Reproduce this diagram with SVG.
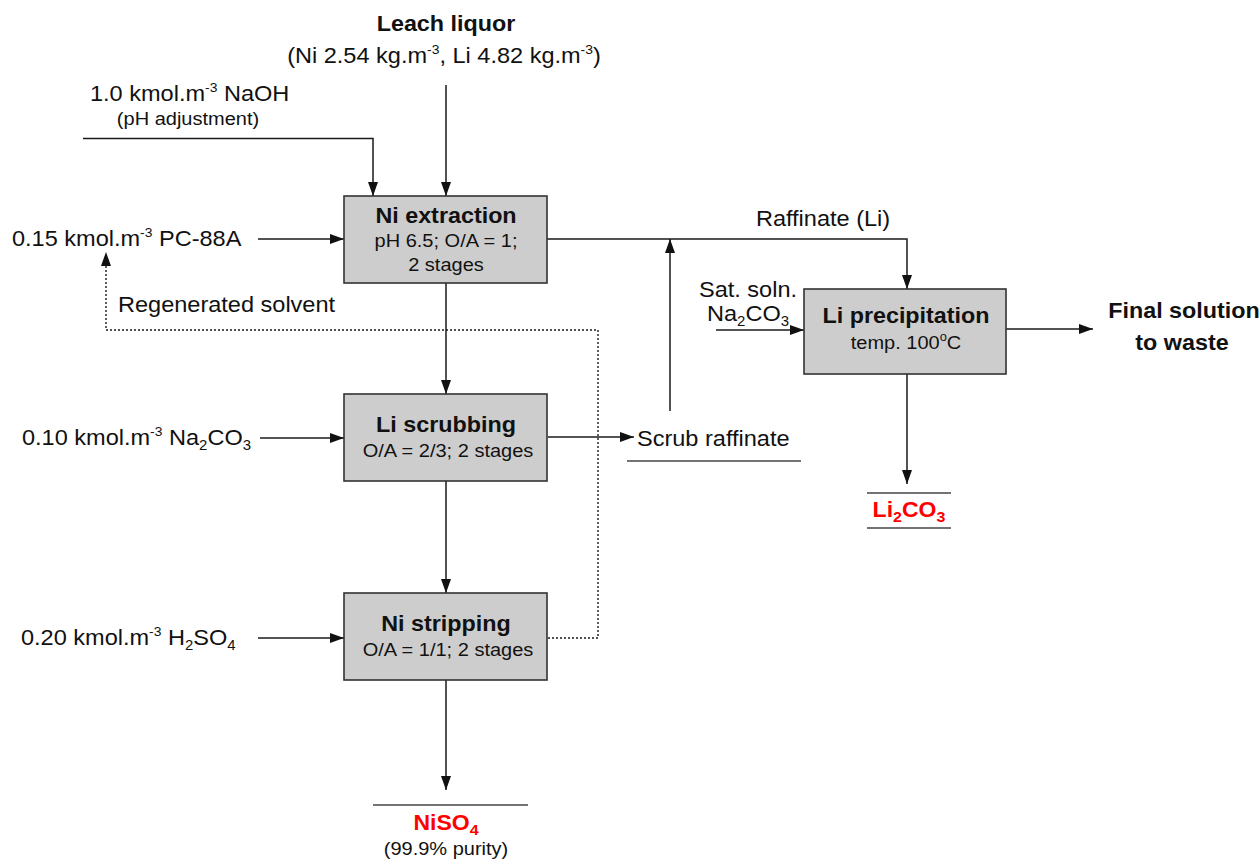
<svg xmlns="http://www.w3.org/2000/svg" width="1260" height="867" viewBox="0 0 1260 867">
<style>
text{font-family:"Liberation Sans",Arial,sans-serif;fill:#111;}
.lb{font-size:22px;}
.bd{font-size:21.8px;font-weight:bold;}
.sm{font-size:18.7px;}
.red{fill:#ff0000;font-weight:bold;font-size:21.5px;}
.box{fill:#cdcdcd;stroke:#333;stroke-width:1.6;}
.ln{fill:none;stroke:#1a1a1a;stroke-width:1.5;}
.ar{fill:none;stroke:#1a1a1a;stroke-width:1.5;marker-end:url(#ah);}
.dt{fill:none;stroke:#1a1a1a;stroke-width:1.4;stroke-dasharray:2,2;}
.ul{fill:none;stroke:#444;stroke-width:1.6;}
</style>
<defs>
<marker id="ah" viewBox="0 0 14 10" refX="14" refY="5" markerWidth="14" markerHeight="10" markerUnits="userSpaceOnUse" orient="auto">
<path d="M0,0 L14,5 L0,10 z" fill="#111"/>
</marker>
</defs>
<rect width="1260" height="867" fill="#fff"/>

<g id="connectors">
<path class="ar" d="M446,85 V196"/>
<path class="ar" d="M83,138.5 H373 V196"/>
<path class="ar" d="M258,239 H344"/>
<path class="ar" d="M547,239 H907 V289"/>
<path class="ar" d="M446,283 V394"/>
<path class="ar" d="M446,481 V593"/>
<path class="ar" d="M446,680 V790"/>
<path class="ar" d="M260,438 H344"/>
<path class="ar" d="M258,638 H344"/>
<path class="ar" d="M548,437 H634"/>
<path class="ar" d="M670,411 V239"/>
<path class="ar" d="M716,330 H804"/>
<path class="ar" d="M1006,329 H1093"/>
<path class="ar" d="M907,374 V484"/>
<path class="dt" d="M548,638 H598 V330 H106 V262"/>
<path d="M106,252 L101,266 L111,266 z" fill="#111"/>
</g>

<g id="leach-liquor">
<text class="bd" text-anchor="middle" transform="translate(446,31) scale(1.07,1)">Leach liquor</text>
<text class="lb" text-anchor="middle" transform="translate(444,63) scale(1.07,1)">(Ni 2.54 kg.m<tspan dy="-9" font-size="13">-3</tspan><tspan dy="9">, Li 4.82 kg.m</tspan><tspan dy="-9" font-size="13">-3</tspan><tspan dy="9">)</tspan></text>
</g>

<g id="naoh">
<text class="lb" transform="translate(90,101) scale(1.07,1)">1.0 kmol.m<tspan dy="-9" font-size="13">-3</tspan><tspan dy="9"> NaOH</tspan></text>
<text class="sm" text-anchor="middle" transform="translate(188,125) scale(1.07,1)">(pH adjustment)</text>
</g>

<g id="pc88a">
<text class="lb" transform="translate(12,246) scale(1.07,1)">0.15 kmol.m<tspan dy="-9" font-size="13">-3</tspan><tspan dy="9"> PC-88A</tspan></text>
</g>

<g id="regenerated-solvent">
<text class="lb" transform="translate(118,312) scale(1.07,1)">Regenerated solvent</text>
</g>

<g id="na2co3-scrub">
<text class="lb" transform="translate(22,445) scale(1.07,1)">0.10 kmol.m<tspan dy="-9" font-size="13">-3</tspan><tspan dy="9"> Na</tspan><tspan dy="5" font-size="14">2</tspan><tspan dy="-5">CO</tspan><tspan dy="5" font-size="14">3</tspan></text>
</g>

<g id="h2so4">
<text class="lb" transform="translate(21,645) scale(1.07,1)">0.20 kmol.m<tspan dy="-9" font-size="13">-3</tspan><tspan dy="9"> H</tspan><tspan dy="5" font-size="14">2</tspan><tspan dy="-5">SO</tspan><tspan dy="5" font-size="14">4</tspan></text>
</g>

<g id="ni-extraction">
<rect class="box" x="344" y="196" width="203" height="87"/>
<text class="bd" text-anchor="middle" transform="translate(446,223) scale(1.07,1)">Ni extraction</text>
<text class="sm" text-anchor="middle" transform="translate(446,247) scale(1.07,1)">pH 6.5; O/A = 1;</text>
<text class="sm" text-anchor="middle" transform="translate(446,271) scale(1.07,1)">2 stages</text>
</g>

<g id="li-scrubbing">
<rect class="box" x="344" y="394" width="203" height="87"/>
<text class="bd" text-anchor="middle" transform="translate(446,432) scale(1.07,1)">Li scrubbing</text>
<text class="sm" text-anchor="middle" transform="translate(448,457) scale(1.07,1)">O/A = 2/3; 2 stages</text>
</g>

<g id="ni-stripping">
<rect class="box" x="344" y="593" width="203" height="87"/>
<text class="bd" text-anchor="middle" transform="translate(446,631) scale(1.07,1)">Ni stripping</text>
<text class="sm" text-anchor="middle" transform="translate(448,656) scale(1.07,1)">O/A = 1/1; 2 stages</text>
</g>

<g id="raffinate-li">
<text class="lb" text-anchor="middle" transform="translate(823,226) scale(1.07,1)">Raffinate (Li)</text>
</g>

<g id="scrub-raffinate">
<text class="lb" transform="translate(637,446) scale(1.07,1)">Scrub raffinate</text>
<path class="ul" d="M627,461 H801"/>
</g>

<g id="sat-na2co3">
<text class="lb" text-anchor="middle" transform="translate(748,297) scale(1.07,1)">Sat. soln.</text>
<text class="lb" text-anchor="middle" transform="translate(748,321) scale(1.07,1)">Na<tspan dy="5" font-size="14">2</tspan><tspan dy="-5">CO</tspan><tspan dy="5" font-size="14">3</tspan></text>
</g>

<g id="li-precipitation">
<rect class="box" x="804" y="289" width="202" height="85"/>
<text class="bd" text-anchor="middle" transform="translate(906,323) scale(1.07,1)">Li precipitation</text>
<text class="sm" text-anchor="middle" transform="translate(906,349) scale(1.07,1)">temp. 100<tspan dy="-8" font-size="12">o</tspan><tspan dy="8">C</tspan></text>
</g>

<g id="final-solution">
<text class="bd" text-anchor="middle" transform="translate(1184,318) scale(1.07,1)">Final solution</text>
<text class="bd" text-anchor="middle" transform="translate(1182,350) scale(1.07,1)">to waste</text>
</g>

<g id="li2co3">
<path class="ul" d="M867,493 H951"/>
<text class="red" text-anchor="middle" transform="translate(909,517) scale(1.07,1)">Li<tspan dy="5" font-size="15">2</tspan><tspan dy="-5">CO</tspan><tspan dy="5" font-size="15">3</tspan></text>
<path class="ul" d="M867,528 H951"/>
</g>

<g id="niso4">
<path class="ul" d="M373,805 H528"/>
<text class="red" text-anchor="middle" transform="translate(446,830) scale(1.07,1)">NiSO<tspan dy="5" font-size="15">4</tspan></text>
<text class="sm" text-anchor="middle" transform="translate(446,855) scale(1.07,1)">(99.9% purity)</text>
</g>
</svg>
